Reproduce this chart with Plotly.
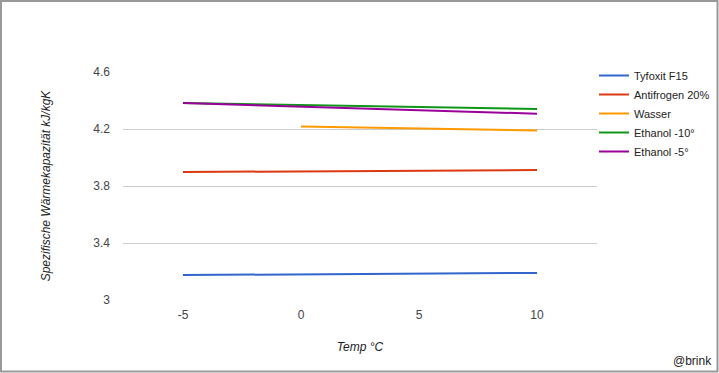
import plotly.graph_objects as go

series_names = ["Tyfoxit F15", "Antifrogen 20%", "Wasser", "Ethanol -10°", "Ethanol -5°"]
temps_full = [-5, 0, 5, 10]
temps_water = [0, 5, 10]
tyfoxit = [3.175, 3.180, 3.185, 3.190]
antifrogen = [3.898, 3.903, 3.908, 3.912]
wasser = [4.217, 4.203, 4.190]
ethanol10 = [4.382, 4.368, 4.354, 4.340]
ethanol5 = [4.382, 4.357, 4.332, 4.307]
colors = ["#3366cc", "#dc3912", "#ff9900", "#109618", "#990099"]
x_ticks = [-5, 0, 5, 10]
y_ticks = [3, 3.4, 3.8, 4.2, 4.6]

xs = [temps_full, temps_full, temps_water, temps_full, temps_full]
ys = [tyfoxit, antifrogen, wasser, ethanol10, ethanol5]

fig = go.Figure()
for name, x, y, c in zip(series_names, xs, ys, colors):
    fig.add_trace(go.Scatter(x=x, y=y, mode="lines", name=name,
                             line=dict(color=c, width=2)))

W, H = 719, 373
L, R, T, B = 123, 122, 72, 73
pw, ph = W - L - R, H - T - B

def px_to_paper_x(px):
    return (px - L) / pw

def px_to_paper_y(py):
    return (H - B - py) / ph

FONT = "Liberation Sans, Arial, sans-serif"

fig.update_layout(
    width=W, height=H, autosize=False,
    margin=dict(l=L, r=R, t=T, b=B, pad=0, autoexpand=False),
    paper_bgcolor="white", plot_bgcolor="white",
    font=dict(family=FONT, size=12, color="#444"),
    showlegend=True,
    legend=dict(xref="container", yref="container", x=594 / W, y=1 - 61 / H,
                xanchor="left", yanchor="top",
                font=dict(size=11, color="#222"), bgcolor="rgba(0,0,0,0)",
                tracegroupgap=0, itemwidth=30),
    xaxis=dict(range=[-7.54, 12.54], tickvals=x_ticks, ticktext=[str(v) for v in x_ticks],
               showgrid=False, zeroline=False, showline=False, ticks="",
               ticklabelstandoff=6,
               tickfont=dict(size=12, color="#444"),
               title=dict(text="<i>Temp °C</i>", font=dict(size=12, color="#222"), standoff=21)),
    yaxis=dict(range=[3, 4.6], tickvals=y_ticks, ticktext=["3", "3.4", "3.8", "4.2", "4.6"],
               showgrid=True, gridcolor="#cccccc", gridwidth=1, zeroline=False,
               showline=False, ticks="", ticklabelstandoff=12,
               tickfont=dict(size=12, color="#444"),
               title=dict(text="<i>Spezifische Wärmekapazität kJ/kgK</i>",
                          font=dict(size=12, color="#222"), standoff=40)),
)

# outer frame
fig.add_shape(type="rect", xref="paper", yref="paper",
              x0=px_to_paper_x(1), x1=px_to_paper_x(717.5),
              y0=px_to_paper_y(371.5), y1=px_to_paper_y(1),
              line=dict(color="#999999", width=2), fillcolor="rgba(0,0,0,0)", layer="above")

fig.add_annotation(text="@brink", xref="paper", yref="paper",
                   x=px_to_paper_x(714), y=px_to_paper_y(361), xanchor="right", yanchor="middle",
                   showarrow=False, font=dict(size=12, color="#222"))

fig.write_html("out.html",
               config={"responsive": False, "displayModeBar": False},
               post_script="document.body.style.margin='0';document.body.style.overflow='hidden';")
